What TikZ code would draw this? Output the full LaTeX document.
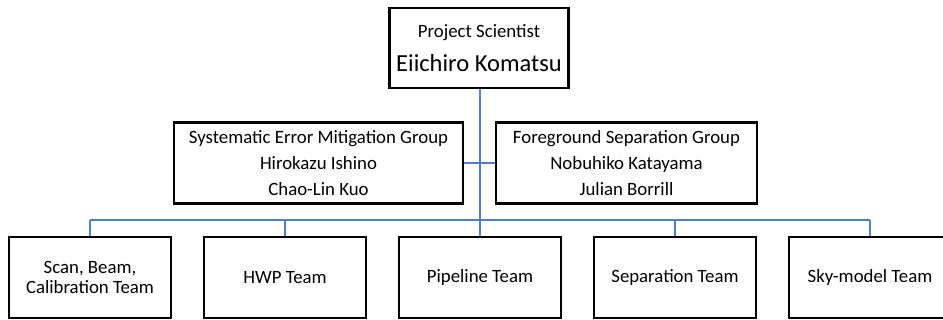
\documentclass[tikz,border=0pt]{standalone}
\usepackage{fontspec}
\setmainfont{Carlito}
\usetikzlibrary{positioning}
\definecolor{linkblue}{RGB}{79,129,189}
\tikzset{
box/.style={draw=black,line width=2.6pt,fill=white,align=center,inner sep=0pt},
bigbox/.style={box,minimum width=179pt,minimum height=80pt},
groupbox/.style={box,minimum height=81pt,font={\fontsize{18.8}{26}\selectfont}},
teambox/.style={box,minimum width=162pt,minimum height=81pt,font={\fontsize{18.8}{20}\selectfont}},
conn/.style={draw=linkblue,line width=1.4pt},
}

\begin{document}
\begin{tikzpicture}[x=1pt,y=-1pt]
\useasboundingbox (0,0) rectangle (943,320);
%Place the nodes
\node[bigbox] (ps) at (479,48) {{\fontsize{18.8}{22}\selectfont Project Scientist}\\[13pt]{\fontsize{24.5}{26}\selectfont Eiichiro Komatsu}};
\node[groupbox,minimum width=289pt] (sem) at (318.5,163) {Systematic Error Mitigation Group\\Hirokazu Ishino\\Chao-Lin Kuo};
\node[groupbox,minimum width=261pt] (fsg) at (626.5,163) {Foreground Separation Group\\Nobuhiko Katayama\\Julian Borrill};

\node[teambox] (t0) at (90,277.5) {Scan, Beam,\\Calibration Team};
\node[teambox] (t1) at (285,277.5) {HWP Team};
\node[teambox] (t2) at (480,277.5) {Pipeline Team};
\node[teambox] (t3) at (675,277.5) {Separation Team};
\node[teambox] (t4) at (870,277.5) {Sky-model Team};

\coordinate (bus) at (480,220);

%
\draw[conn] (ps.south -| bus) -- (bus);
\draw[conn] (sem.east) -- (sem.east -| bus);
\draw[conn] (fsg.west) -- (fsg.west -| bus);

%
\draw[conn] (t0.north |- bus) -- (t4.north |- bus);
\foreach \i in {0,...,4} {
	\draw[conn] (t\i.north) -- (t\i.north |- bus);
}

\end{tikzpicture}
\end{document}
